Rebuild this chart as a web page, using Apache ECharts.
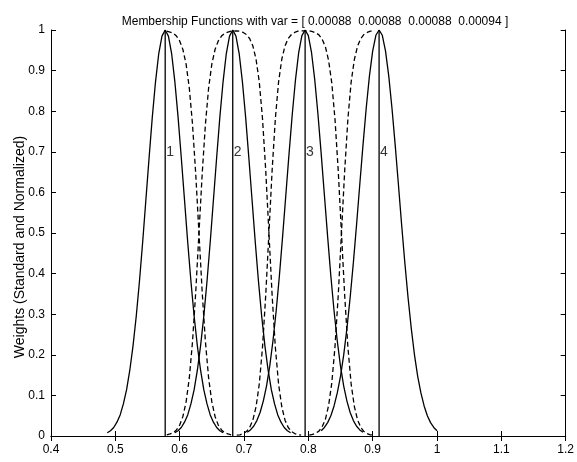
<!DOCTYPE html>
<html>
<head>
<meta charset="utf-8">
<script src="https://cdn.jsdelivr.net/npm/echarts@6/dist/echarts.min.js"></script>
<style>
html,body{margin:0;padding:0;background:#fff;}
#chart{width:577px;height:462px;}
</style>
</head>
<body>
<div id="chart"></div>
<script>
// ---- data ----
const titleText = 'Membership Functions with var = [ 0.00088  0.00088  0.00088  0.00094 ]';
const yName = 'Weights (Standard and Normalized)';

// centres of the four functions (vertical lines) and their labels
const centers = [0.5775, 0.6825, 0.795, 0.91];
const centerLabels = ['1', '2', '3', '4'];
const labelY = 0.7;

// standard (solid) membership functions
const solid1X = [0.4875,0.4925,0.4975,0.5025,0.5075,0.5125,0.5175,0.5225,0.5275,0.5325,0.5375,0.5425,0.5475,0.5525,0.5575,0.5625,0.5675,0.5725,0.5775,0.5825,0.5875,0.5925,0.5975,0.6025,0.6075,0.6125,0.6175,0.6225,0.6275,0.6325,0.6375,0.6425,0.6475,0.6525,0.6575,0.6625,0.6675];
const solid1Y = [0.008,0.013,0.021,0.034,0.052,0.079,0.114,0.162,0.222,0.295,0.381,0.478,0.582,0.686,0.786,0.873,0.942,0.985,1,0.985,0.942,0.873,0.786,0.686,0.582,0.478,0.381,0.295,0.222,0.162,0.114,0.079,0.052,0.034,0.021,0.013,0.008];
const solid2X = [0.5925,0.5975,0.6025,0.6075,0.6125,0.6175,0.6225,0.6275,0.6325,0.6375,0.6425,0.6475,0.6525,0.6575,0.6625,0.6675,0.6725,0.6775,0.6825,0.6875,0.6925,0.6975,0.7025,0.7075,0.7125,0.7175,0.7225,0.7275,0.7325,0.7375,0.7425,0.7475,0.7525,0.7575,0.7625,0.7675,0.7725];
const solid2Y = [0.008,0.013,0.021,0.034,0.052,0.079,0.114,0.162,0.222,0.295,0.381,0.478,0.582,0.686,0.786,0.873,0.942,0.985,1,0.985,0.942,0.873,0.786,0.686,0.582,0.478,0.381,0.295,0.222,0.162,0.114,0.079,0.052,0.034,0.021,0.013,0.008];
const solid3X = [0.705,0.71,0.715,0.72,0.725,0.73,0.735,0.74,0.745,0.75,0.755,0.76,0.765,0.77,0.775,0.78,0.785,0.79,0.795,0.8,0.805,0.81,0.815,0.82,0.825,0.83,0.835,0.84,0.845,0.85,0.855,0.86,0.865,0.87,0.875,0.88,0.885];
const solid3Y = [0.009,0.015,0.024,0.038,0.058,0.086,0.123,0.172,0.234,0.308,0.394,0.491,0.593,0.695,0.792,0.877,0.944,0.986,1,0.986,0.944,0.877,0.792,0.695,0.593,0.491,0.394,0.308,0.234,0.172,0.123,0.086,0.058,0.038,0.024,0.015,0.009];
const solid4X = [0.82,0.825,0.83,0.835,0.84,0.845,0.85,0.855,0.86,0.865,0.87,0.875,0.88,0.885,0.89,0.895,0.9,0.905,0.91,0.915,0.92,0.925,0.93,0.935,0.94,0.945,0.95,0.955,0.96,0.965,0.97,0.975,0.98,0.985,0.99,0.995,1.0];
const solid4Y = [0.013,0.021,0.033,0.050,0.074,0.106,0.147,0.200,0.265,0.341,0.427,0.521,0.620,0.717,0.808,0.887,0.948,0.987,1,0.987,0.948,0.887,0.808,0.717,0.620,0.521,0.427,0.341,0.265,0.200,0.147,0.106,0.074,0.050,0.033,0.021,0.013];

// normalized (dashed) membership functions, around each crossing
const xs12 = [0.58,0.585,0.59,0.595,0.6,0.605,0.61,0.615,0.62,0.625,0.63,0.635,0.64,0.645,0.65,0.655,0.66,0.665,0.67,0.675,0.68];
const n1Fall = [0.997,0.995,0.992,0.985,0.973,0.952,0.916,0.857,0.767,0.645,0.5,0.355,0.233,0.143,0.084,0.048,0.027,0.015,0.008,0.005,0.003];
const n2Rise = [0.003,0.005,0.008,0.015,0.027,0.048,0.084,0.143,0.233,0.355,0.5,0.645,0.767,0.857,0.916,0.952,0.973,0.985,0.992,0.995,0.997];
const xs23 = [0.68875,0.69375,0.69875,0.70375,0.70875,0.71375,0.71875,0.72375,0.72875,0.73375,0.73875,0.74375,0.74875,0.75375,0.75875,0.76375,0.76875,0.77375,0.77875,0.78375,0.78875];
const n2Fall = [0.998,0.997,0.994,0.989,0.979,0.961,0.928,0.872,0.782,0.655,0.5,0.346,0.218,0.128,0.072,0.039,0.021,0.011,0.006,0.003,0.002];
const n3Rise = [0.002,0.003,0.006,0.011,0.021,0.039,0.072,0.128,0.218,0.346,0.5,0.655,0.782,0.872,0.928,0.961,0.979,0.989,0.994,0.997,0.998];
const xs34 = [0.8015,0.8065,0.8115,0.8165,0.8215,0.8265,0.8315,0.8365,0.8415,0.8465,0.8515,0.8565,0.8615,0.8665,0.8715,0.8765,0.8815,0.8865,0.8915,0.8965,0.9015];
const n3Fall = [0.998,0.996,0.993,0.988,0.977,0.959,0.925,0.869,0.779,0.653,0.5,0.347,0.219,0.129,0.073,0.040,0.021,0.011,0.006,0.003,0.002];
const n4Rise = [0.002,0.004,0.007,0.012,0.023,0.041,0.075,0.131,0.221,0.347,0.5,0.653,0.781,0.871,0.927,0.960,0.979,0.989,0.994,0.997,0.998];

// axis ranges
const xMin = 0.4, xMax = 1.2, xStep = 0.1;
const yMin = 0, yMax = 1, yStep = 0.1;

// ---- build chart ----
function zip(xs, ys) { return xs.map((x, i) => [x, ys[i]]); }
const FONT = 'Liberation Sans, Arial, Helvetica, sans-serif';
const solidStyle = { color: '#000', width: 1.3, type: 'solid' };
const dashStyle = { color: '#000', width: 1.3, type: [5, 3] };

function lineSeries(data, style) {
  return { type: 'line', data: data, showSymbol: false, symbol: 'none', smooth: false,
           lineStyle: style, silent: true, z: 3, clip: true };
}

const series = [];
[[solid1X, solid1Y], [solid2X, solid2Y], [solid3X, solid3Y], [solid4X, solid4Y]]
  .forEach(([xs, ys]) => series.push(lineSeries(zip(xs, ys), solidStyle)));

series.push(lineSeries(zip(xs12, n1Fall), dashStyle));
series.push(lineSeries(zip(xs12, n2Rise).concat(zip(xs23, n2Fall)), dashStyle));
series.push(lineSeries(zip(xs23, n3Rise).concat(zip(xs34, n3Fall)), dashStyle));
series.push(lineSeries(zip(xs34, n4Rise), dashStyle));

centers.forEach(c => series.push(lineSeries([[c, yMin], [c, yMax]], { color: '#000', width: 1.3 })));

series.push({
  type: 'scatter', symbolSize: 0, silent: true, z: 5,
  data: centers.map((c, i) => ({ value: [c, labelY], name: centerLabels[i] })),
  label: { show: true, position: 'right', distance: 1, formatter: p => p.name,
           color: '#000', fontFamily: FONT, fontSize: 14 }
});

const commonX = { type: 'value', min: xMin, max: xMax, interval: xStep,
  axisLine: { show: true, lineStyle: { color: '#000', width: 1 } },
  axisTick: { show: true, inside: true, length: 5, lineStyle: { color: '#000' } },
  splitLine: { show: false } };
const commonY = { type: 'value', min: yMin, max: yMax, interval: yStep,
  axisLine: { show: true, lineStyle: { color: '#000', width: 1 } },
  axisTick: { show: true, inside: true, length: 5, lineStyle: { color: '#000' } },
  splitLine: { show: false } };

const option = {
  animation: false,
  backgroundColor: '#fff',
  title: { text: titleText, left: 310, top: 11, textAlign: 'center',
           textStyle: { fontFamily: FONT, fontSize: 12, fontWeight: 'normal', color: '#000' } },
  graphic: [{
    type: 'text', x: 20, y: 247, rotation: Math.PI / 2, silent: true,
    style: { text: yName, fill: '#000', font: '14px ' + FONT, align: 'center', verticalAlign: 'middle' }
  }],
  grid: { left: 51, right: 8, top: 30, bottom: 26, containLabel: false },
  xAxis: [
    Object.assign({}, commonX, { position: 'bottom',
      axisLabel: { show: true, margin: 8, color: '#000', fontFamily: FONT, fontSize: 12 } }),
    Object.assign({}, commonX, { position: 'top', axisLabel: { show: false } })
  ],
  yAxis: [
    Object.assign({}, commonY, { position: 'left',
      axisLabel: { show: true, margin: 6, color: '#000', fontFamily: FONT, fontSize: 12 } }),
    Object.assign({}, commonY, { position: 'right', axisLabel: { show: false } })
  ],
  series: series
};

const chart = echarts.init(document.getElementById('chart'), null, { renderer: 'canvas' });
chart.setOption(option);
</script>
</body>
</html>
